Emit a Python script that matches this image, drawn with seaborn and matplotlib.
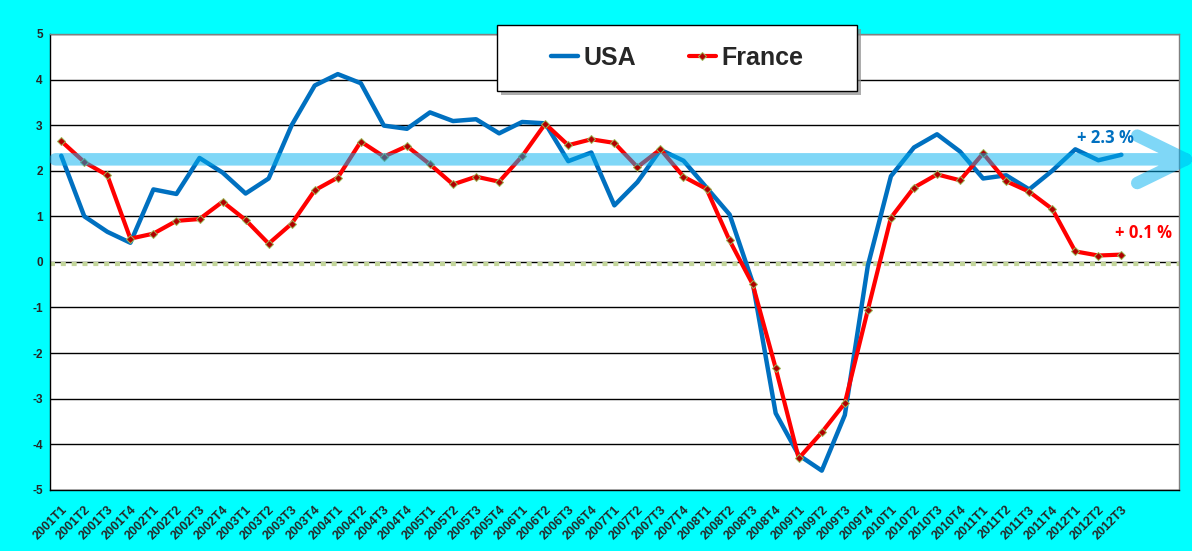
import matplotlib
matplotlib.use("Agg")
import matplotlib.pyplot as plt
from matplotlib.path import Path
from matplotlib.patches import PathPatch, Rectangle
import matplotlib.transforms as mtransforms
import seaborn as sns
import numpy as np
import pandas as pd

# quarters 2001T1 .. 2012T3
quarters = [f"{y}T{q}" for y in range(2001, 2013) for q in range(1, 5)][:47]

usa = [2.33, 1.00, 0.66, 0.42, 1.59, 1.49, 2.28, 1.96, 1.50, 1.83,
       3.00, 3.87, 4.12, 3.92, 2.99, 2.92, 3.28, 3.09, 3.13, 2.82,
       3.07, 3.04, 2.21, 2.40, 1.24, 1.75, 2.46, 2.22, 1.63, 1.04,
       -0.45, -3.32, -4.24, -4.58, -3.36, -0.08, 1.88, 2.51, 2.80, 2.42,
       1.83, 1.90, 1.59, 2.00, 2.47, 2.23, 2.35]
france = [2.65, 2.19, 1.90, 0.51, 0.62, 0.90, 0.94, 1.32, 0.92, 0.40,
          0.84, 1.57, 1.85, 2.64, 2.31, 2.54, 2.14, 1.70, 1.87, 1.76,
          2.32, 3.03, 2.56, 2.69, 2.61, 2.08, 2.47, 1.87, 1.60, 0.47,
          -0.49, -2.33, -4.31, -3.74, -3.10, -1.05, 0.97, 1.63, 1.92, 1.79,
          2.38, 1.77, 1.54, 1.16, 0.23, 0.14, 0.16]

n_slots = 49          # axis has two empty quarters after 2012T3
usa_trend = 2.25      # level of the big arrow
usa_note = "+ 2.3 %"
france_note = "+ 0.1 %"

df = pd.DataFrame({"idx": np.arange(len(quarters)), "USA": usa, "France": france})

sns.set_style("white")
plt.rcParams['font.family'] = ['Liberation Sans', 'DejaVu Sans']
plt.rcParams['axes.unicode_minus'] = False

fig = plt.figure(figsize=(11.92, 5.51), dpi=100, facecolor="#00FFFF")
ax = fig.add_axes([0.0417, 0.1111, 0.9474, 0.8272])
ax.set_facecolor("white")

sns.lineplot(data=df, x="idx", y="USA", ax=ax, color="#0070C0", linewidth=3.2,
             label="USA", zorder=3)
sns.lineplot(data=df, x="idx", y="France", ax=ax, color="#FF0000", linewidth=3.0,
             marker="D", markersize=4.5, markerfacecolor="#B00000",
             markeredgecolor="#9BBB59", markeredgewidth=0.7, label="France", zorder=3)

# axes, grid
ax.set_xlim(-0.5, n_slots - 0.5)
ax.set_ylim(-5, 5)
ax.set_yticks(range(-5, 6))
ax.yaxis.grid(True, color="black", linewidth=1)
ax.set_axisbelow(True)
# light green dotted zero line, drawn just under the black gridline
zero_shift = mtransforms.ScaledTranslation(0, -2 / 100, fig.dpi_scale_trans)
ax.plot([0, 1], [0, 0], color="#C3D69B", linewidth=3, linestyle=(0, (1.2, 1.4)),
        zorder=2, transform=ax.get_yaxis_transform() + zero_shift)

ax.set_xticks(range(len(quarters)))
ax.set_xticklabels(quarters, rotation=45, ha="right", va="top", rotation_mode="anchor",
                   fontsize=9, fontweight="bold")
ax.set_xticks(np.arange(-0.5, n_slots), minor=True)
ax.tick_params(axis="x", which="major", length=0, pad=10)
ax.tick_params(axis="x", which="minor", length=4, width=1, color="black", direction="out")
ax.tick_params(axis="y", length=3, width=1, color="black", direction="out", pad=2,
               labelsize=8.5)
for lab in ax.get_yticklabels():
    lab.set_fontweight("bold")
ax.set_xlabel("")
ax.set_ylabel("")

for side in ["left", "bottom"]:
    ax.spines[side].set_color("black")
    ax.spines[side].set_linewidth(1)
for side in ["top", "right"]:
    ax.spines[side].set_color("#808080")
    ax.spines[side].set_linewidth(1)

# big translucent arrow (x in axes fraction, y in data)
trans = mtransforms.blended_transform_factory(ax.transAxes, ax.transData)
tip, arm, spread = 1.006, 0.963, 0.52
verts = [(0.005, usa_trend), (tip, usa_trend),
         (arm, usa_trend + spread), (tip, usa_trend), (arm, usa_trend - spread)]
codes = [Path.MOVETO, Path.LINETO, Path.MOVETO, Path.LINETO, Path.LINETO]
arrow = PathPatch(Path(verts, codes), transform=trans, fill=False,
                  edgecolor="#00B0F0", alpha=0.5, linewidth=9,
                  capstyle="round", joinstyle="round", clip_on=False, zorder=4)
ax.add_patch(arrow)

ax.text(45.3, 2.71, usa_note, color="#0070C0", fontsize=12, fontweight="bold",
        family=["Open Sans", "DejaVu Sans"], ha="center", va="center", zorder=5)
ax.text(46.95, 0.64, france_note, color="#FF0000", fontsize=12, fontweight="bold",
        family=["Open Sans", "DejaVu Sans"], ha="center", va="center", zorder=5)

# legend with boxed frame and shadow
handles, labels = ax.get_legend_handles_labels()
if ax.get_legend() is not None:
    ax.get_legend().remove()
shadow = Rectangle((0.4205, 0.8275), 0.302, 0.1198, transform=fig.transFigure,
                   facecolor="#8a8a8a", edgecolor="none", alpha=0.7, zorder=1)
frame = Rectangle((0.417, 0.8348), 0.302, 0.1198, transform=fig.transFigure,
                  facecolor="white", edgecolor="black", linewidth=1, zorder=2)
fig.add_artist(shadow)
fig.add_artist(frame)
leg = fig.legend(handles, labels, loc="center", bbox_to_anchor=(0.568, 0.8947),
                 ncol=2, frameon=False,
                 prop=dict(family="Liberation Sans", weight="bold", size=18),
                 handlelength=1.1, handletextpad=0.2, columnspacing=2.1)
leg.set_zorder(3)

fig.savefig("out.png", dpi=100, facecolor=fig.get_facecolor())
